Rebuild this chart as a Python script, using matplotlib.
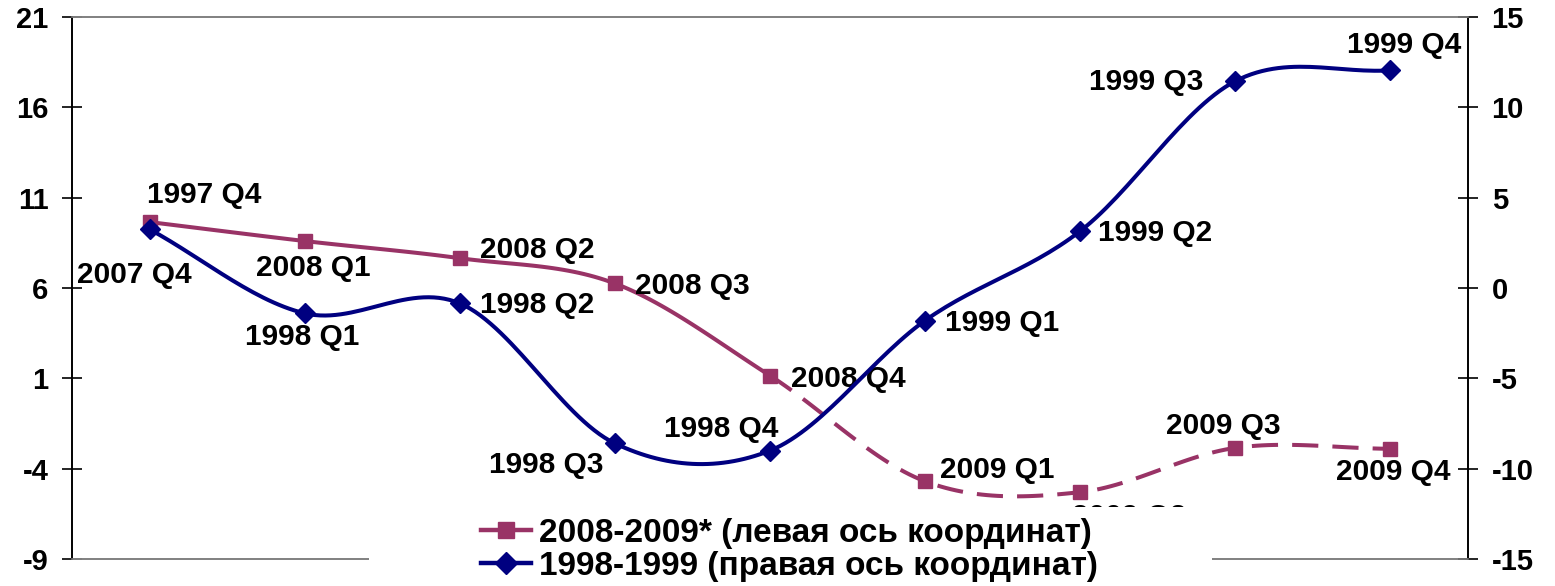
import numpy as np
import matplotlib.pyplot as plt
from matplotlib import font_manager
from matplotlib.patches import Rectangle

# 2008-2009 series (left axis)
left_values = [9.65, 8.6, 7.65, 6.25, 1.15, -4.7, -5.3, -2.85, -2.9]
left_labels = ["1997 Q4", "2008 Q1", "2008 Q2", "2008 Q3", "2008 Q4",
               "2009 Q1", "2009 Q2", "2009 Q3", "2009 Q4"]
# 1998-1999 series (right axis)
right_values = [3.25, -1.4, -0.85, -8.6, -9.0, -1.8, 3.15, 11.45, 12.05]
right_labels = ["2007 Q4", "1998 Q1", "1998 Q2", "1998 Q3", "1998 Q4",
                "1999 Q1", "1999 Q2", "1999 Q3", "1999 Q4"]
legend_names = ["2008-2009* (левая ось координат)", "1998-1999 (правая ось координат)"]
left_ticks = [-9, -4, 1, 6, 11, 16, 21]
right_ticks = [-15, -10, -5, 0, 5, 10, 15]

# label offsets in pixels (text left edge, vertical centre) from each point
left_offsets = [(-3, 27), (-49, -27), (20, 8), (20, -3), (21, -3),
                (15, 11), (-8, -25), (-69, 22), (-54, -23)]
right_offsets = [(-73, -46), (-60, -24), (20, -2), (-126, -22), (-106, 22),
                 (20, -2), (18, -2), (-146, -1), (-43, 25)]

PINK = "#993366"
NAVY = "#000080"

names = {f.name for f in font_manager.fontManager.ttflist}
plt.rcParams['font.family'] = ['Liberation Sans', 'DejaVu Sans']
plt.rcParams['font.weight'] = 'bold'
plt.rcParams['axes.unicode_minus'] = False
narrow = 'Liberation Sans Narrow' if 'Liberation Sans Narrow' in names else 'Liberation Sans'


# smoothed line like excel (cubic hermite, x is linear)
def smooth(y, n=30):
    y = np.asarray(y, float)
    m = np.gradient(y)
    xs, ys = [], []
    for i in range(len(y) - 1):
        t = np.linspace(0, 1, n, endpoint=(i == len(y) - 2))
        h00 = 2*t**3 - 3*t**2 + 1
        h10 = t**3 - 2*t**2 + t
        h01 = -2*t**3 + 3*t**2
        h11 = t**3 - t**2
        xs.append(i + t)
        ys.append(h00*y[i] + h10*m[i] + h01*y[i+1] + h11*m[i+1])
    return np.concatenate(xs), np.concatenate(ys)


fig = plt.figure(figsize=(15.55, 5.86), dpi=100)
ax = fig.add_axes([72/1555, 1 - 559/586, 1396/1555, 542/586])
ax2 = ax.twinx()

x = np.arange(len(left_values))
LW = 2.9

# pink: solid to 2008 Q4, dashed after
sx, sy = smooth(left_values)
ax.plot(sx[sx <= 4], sy[sx <= 4], color=PINK, lw=LW, solid_capstyle='butt')
ax.plot(sx[sx >= 4], sy[sx >= 4], color=PINK, lw=LW, dashes=(6.5, 3.5), dash_capstyle='butt')
ax.plot(x, left_values, ls='none', marker='s', ms=10.5, color=PINK)

bx, by = smooth(right_values)
ax2.plot(bx, by, color=NAVY, lw=LW)
ax2.plot(x, right_values, ls='none', marker='D', ms=10, color=NAVY)

for i, (lab, off) in enumerate(zip(left_labels, left_offsets)):
    ax.annotate(lab, (i, left_values[i]), xytext=off, textcoords='offset pixels',
                ha='left', va='center', fontsize=21.5, fontweight='bold', annotation_clip=False)
for i, (lab, off) in enumerate(zip(right_labels, right_offsets)):
    ax2.annotate(lab, (i, right_values[i]), xytext=off, textcoords='offset pixels',
                 ha='left', va='center', fontsize=21.5, fontweight='bold', annotation_clip=False)

ax.set_xlim(-0.5, len(left_values) - 0.5)
ax.set_xticks([])
ax.set_ylim(-9, 21)
ax.set_yticks(left_ticks)
ax2.set_ylim(-15, 15)
ax2.set_yticks(right_ticks)

for a in (ax, ax2):
    a.tick_params(axis='y', direction='inout', length=14, width=1.2, pad=10, labelsize=21)
    for s in ('top', 'bottom'):
        a.spines[s].set_color('#808080')
        a.spines[s].set_linewidth(1.2)
    for s in ('left', 'right'):
        a.spines[s].set_color('black')
        a.spines[s].set_linewidth(1.2)
for t in ax.get_yticklabels() + ax2.get_yticklabels():
    t.set_fontweight('bold')

# white box under the legend (hides part of the bottom axis line)
fig.patches.append(Rectangle((369/1555, 0), (1212 - 369)/1555, 1 - 507/586,
                             transform=fig.transFigure, facecolor='white',
                             edgecolor='none', zorder=5))

h1 = plt.Line2D([], [], color=PINK, lw=3.2, marker='s', ms=12)
h2 = plt.Line2D([], [], color=NAVY, lw=3.2, marker='D', ms=11)
leg = fig.legend([h1, h2], legend_names, loc='upper left',
                 bbox_to_anchor=(481/1555, 1 - 518/586), frameon=False,
                 handlelength=1.5, handletextpad=0.25, labelspacing=0.05,
                 borderpad=0, borderaxespad=0,
                 prop={'family': [narrow, 'Liberation Sans'], 'weight': 'bold', 'size': 24})
leg.set_zorder(6)

fig.savefig("out.png", dpi=100)
